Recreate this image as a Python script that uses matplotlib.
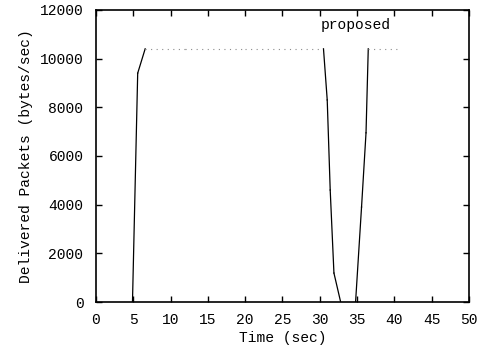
import numpy as np
import matplotlib
matplotlib.use("Agg")
import matplotlib.pyplot as plt

# throughput of the proposed scheme
time_s = [0, 4.9, 5.6, 6.6, 12.0, 20.0, 30.5, 31.0, 31.4, 31.9, 32.8, 34.8, 35.6, 36.2, 36.5, 40.5]
rate = [0, 0, 9400, 10400, 10400, 10400, 10400, 8300, 4600, 1190, 0, 0, 3900, 6950, 10400, 10400]

x_ticks = np.arange(0, 51, 5)
y_ticks = np.arange(0, 12001, 2000)

plt.rcParams['font.family'] = ['Liberation Mono', 'DejaVu Sans Mono']

fig = plt.figure(figsize=(4.82, 3.52), dpi=100)
ax = fig.add_axes([0.199, 0.142, 0.774, 0.830])

# ramps drawn solid, plateaus look faint/dotted in the scan
for i in range(len(time_s) - 1):
    flat = abs(rate[i + 1] - rate[i]) < 100
    ax.plot(time_s[i:i + 2], rate[i:i + 2],
            linestyle=(0, (1, 4)) if flat else '-',
            color='0.55' if flat else 'black',
            linewidth=0.8 if flat else 0.9)

ax.text(34.8, 11380, "proposed", ha='center', va='center', fontsize=10.5)

ax.set_xlim(0, 50)
ax.set_ylim(0, 12000)
ax.set_xticks(x_ticks)
ax.set_yticks(y_ticks)
ax.tick_params(direction='in', top=True, right=True, length=4, width=1,
               labelsize=10.5)
ax.tick_params(axis='x', pad=8)
ax.tick_params(axis='y', pad=9)
for s in ax.spines.values():
    s.set_linewidth(1.2)

ax.set_xlabel("Time (sec)", fontsize=10.5, labelpad=3)
ax.set_ylabel("Delivered Packets (bytes/sec)", fontsize=10.5, labelpad=5)

plt.savefig("out.png", dpi=100)
